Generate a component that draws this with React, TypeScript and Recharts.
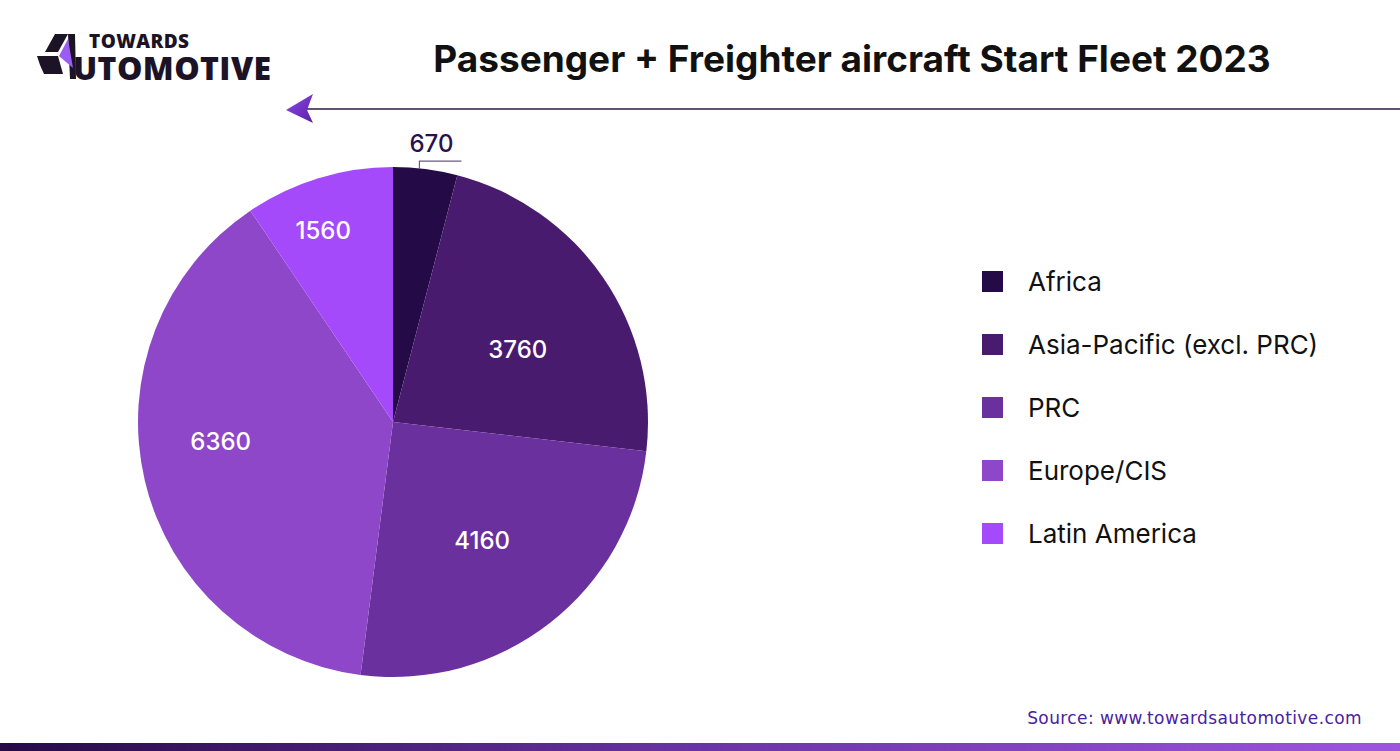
import React from 'react';
import { PieChart, Pie, Cell, Legend } from 'recharts';

const regions = ['Africa', 'Asia-Pacific (excl. PRC)', 'PRC', 'Europe/CIS', 'Latin America'];
const fleet = [670, 3760, 4160, 6360, 1560];
const colors = ['#240A46', '#491B6E', '#6A309D', '#8D47C8', '#A54AFA'];

// label placement (style): radius factor and clockwise angle shift per slice
const labelRadius = [1, 0.565, 0.583, 0.68, 0.8];
const labelShift = [0, 4.4, 1.2, 6.8, -3];

const data = regions.map((name, i) => ({ name, value: fleet[i] }));

const RADIAN = Math.PI / 180;
const LABEL_FONT = 'Inter, "Liberation Sans", Arial, sans-serif';

function renderLabel(props: any) {
  const { cx, cy, midAngle, outerRadius, index, value } = props;
  if (index === 0) {
    const ex = cx + outerRadius * Math.cos(-midAngle * RADIAN) - 6;
    const ey = cy + outerRadius * Math.sin(-midAngle * RADIAN);
    return (
      <g>
        <path d={`M${ex},${ey} L${ex},${ey - 8} L${ex + 42},${ey - 8}`} stroke="#6b5a80" strokeWidth={1.2} fill="none" />
        <text x={ex + 12} y={ey - 26} textAnchor="middle" dominantBaseline="central" fill="#2A1050" fontSize={24} fontFamily={LABEL_FONT} fontWeight={500}>
          {value}
        </text>
      </g>
    );
  }
  const a = (midAngle - labelShift[index]) * RADIAN;
  const r = outerRadius * labelRadius[index];
  const x = cx + r * Math.cos(-a);
  const y = cy + r * Math.sin(-a);
  return (
    <text x={x} y={y} textAnchor="middle" dominantBaseline="central" fill="#ffffff" fontSize={24} fontFamily={LABEL_FONT} fontWeight={500}>
      {value}
    </text>
  );
}

function LegendContent() {
  return (
    <div style={{ display: 'flex', flexDirection: 'column' }}>
      {regions.map((name, i) => (
        <div key={name} style={{ display: 'flex', alignItems: 'center', height: 63 }}>
          <div style={{ width: 21, height: 21, background: colors[i], marginRight: 25 }} />
          <span style={{ fontFamily: LABEL_FONT, fontSize: 26, color: '#111111', fontWeight: 400 }}>{name}</span>
        </div>
      ))}
    </div>
  );
}

export default function App() {
  return (
    <div style={{ position: 'absolute', left: 0, top: 0, width: 1400, height: 751, background: '#ffffff', overflow: 'hidden' }}>
      <svg width={1400} height={751} style={{ position: 'absolute', left: 0, top: 0 }}>
        <defs>
          <linearGradient id="barGrad" x1="0" x2="1" y1="0" y2="0">
            <stop offset="0%" stopColor="#250A47" />
            <stop offset="50%" stopColor="#6A33A5" />
            <stop offset="100%" stopColor="#9D55DE" />
          </linearGradient>
          <linearGradient id="arrowGrad" x1="0" x2="1" y1="0" y2="1">
            <stop offset="0%" stopColor="#8A4BE6" />
            <stop offset="100%" stopColor="#5A1FA8" />
          </linearGradient>
        </defs>
        {/* logo */}
        <polygon points="55,34 68,34 58,52 45,52" fill="#1C1326" />
        <polygon points="37,56 58,56 63,74 44,74 40,65" fill="#1C1326" />
        <polygon points="68,34 75,34 76,79 70,79" fill="#1C1326" />
        <polygon points="68,39 59,56 73,68" fill="#9B5CF2" />
        <text x={89} y={48} fontFamily='"Open Sans", Inter, sans-serif' fontWeight={800} fontSize={19} letterSpacing={0.4} fill="#1C1326">TOWARDS</text>
        <text x={73} y={80} fontFamily='"Open Sans", Inter, sans-serif' fontWeight={800} fontSize={32} letterSpacing={0.4} fill="#1C1326">UTOMOTIVE</text>
        {/* title */}
        <text x={852} y={58} textAnchor="middle" dominantBaseline="central" fontFamily='Inter, "Open Sans", sans-serif' fontWeight={700} fontSize={37} fill="#111111">
          Passenger + Freighter aircraft Start Fleet 2023
        </text>
        {/* arrow line */}
        <line x1={307} y1={109} x2={1400} y2={109} stroke="#2B1D40" strokeWidth={1.5} />
        <polygon points="286,110 313,94 307,110 313,123" fill="url(#arrowGrad)" />
        {/* source */}
        <text x={1362} y={718} textAnchor="end" dominantBaseline="central" fontFamily='"DejaVu Sans", "Open Sans", sans-serif' fontSize={17} letterSpacing={0.4} fill="#4A22A0">
          Source: www.towardsautomotive.com
        </text>
        {/* bottom bar */}
        <rect x={0} y={743} width={1400} height={8} fill="url(#barGrad)" />
      </svg>
      <div style={{ position: 'absolute', left: 0, top: 0 }}>
        <PieChart width={1400} height={751} margin={{ top: 0, right: 0, bottom: 0, left: 0 }}>
          <Pie
            data={data}
            dataKey="value"
            nameKey="name"
            cx={393}
            cy={422}
            outerRadius={255}
            startAngle={90}
            endAngle={-270}
            stroke="none"
            isAnimationActive={false}
            label={renderLabel}
            labelLine={false}
          >
            {data.map((d, i) => (
              <Cell key={d.name} fill={colors[i]} />
            ))}
          </Pie>
          <Legend
            content={<LegendContent />}
            wrapperStyle={{ position: 'absolute', left: 982, top: 250, width: 400 }}
          />
        </PieChart>
      </div>
    </div>
  );
}
